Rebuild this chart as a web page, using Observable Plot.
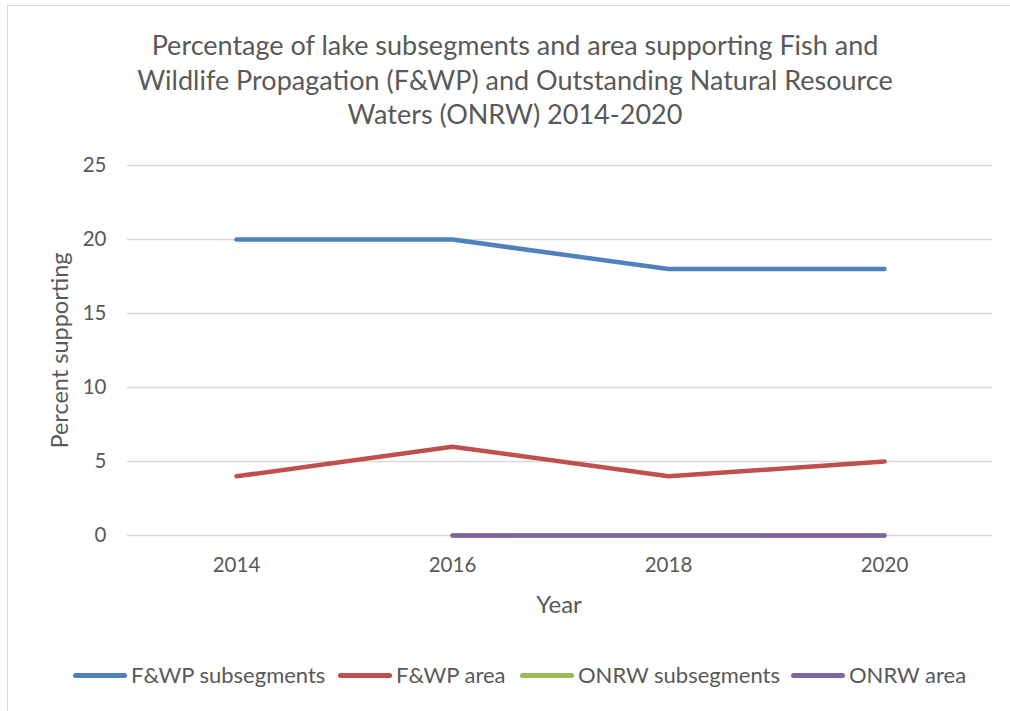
<!DOCTYPE html>
<html><head><meta charset="utf-8">
<script src="https://cdn.jsdelivr.net/npm/d3@7"></script>
<script src="https://cdn.jsdelivr.net/npm/@observablehq/plot@0.6"></script>
<style>
body{margin:0;background:#fff;font-family:Lato,"Open Sans",sans-serif;}
#wrap{position:relative;width:1010px;height:711px;overflow:hidden;}
#frame{position:absolute;left:7px;top:5px;width:1010px;height:720px;border:1.5px solid #d9d9d9;box-sizing:border-box;}
#title{position:absolute;left:0;top:28px;width:1030px;text-align:center;font-size:27px;line-height:34.5px;color:#595959;}
#chart{position:absolute;left:0;top:150px;}
#legend{position:absolute;left:0;top:661px;width:1010px;height:30px;font-size:22px;color:#595959;}
.li{position:absolute;top:0;white-space:nowrap;}
.sw{display:inline-block;width:54px;height:5px;border-radius:3px;vertical-align:middle;margin-right:4px;position:relative;top:-2px;}
</style></head>
<body><div id="wrap"><div id="frame"></div>
<div id="title">Percentage of lake subsegments and area supporting Fish and<br>Wildlife Propagation (F&amp;WP) and Outstanding Natural Resource<br>Waters (ONRW) 2014-2020</div>
<div id="chart"></div>
<div id="legend"></div>
</div>
<script>
const years = ["2014","2016","2018","2020"];
const fwpSubsegments = [20,20,18,18];
const fwpArea = [4,6,4,5];
const onrwSubsegments = [null,0,0,0];
const onrwArea = [null,0,0,0];
const seriesNames = ["F&WP subsegments","F&WP area","ONRW subsegments","ONRW area"];
const seriesColors = ["#4F81BD","#C0504D","#9BBB59","#8064A2"];
const yTicks = [0,5,10,15,20,25];

const allSeries = [fwpSubsegments, fwpArea, onrwSubsegments, onrwArea];
const rows = [];
allSeries.forEach((vals,si)=>vals.forEach((v,i)=>{ if(v!==null) rows.push({series:seriesNames[si], year:years[i], value:v}); }));

const chart = Plot.plot({
  width:1010, height:500,
  marginTop:15, marginBottom:115, marginLeft:127, marginRight:18,
  style:{fontFamily:"Lato, 'Open Sans', sans-serif", fontSize:"20.5px", color:"#595959", background:"transparent", overflow:"visible"},
  x:{type:"point", domain:years, padding:0.5, label:null},
  y:{domain:[0,25], label:null},
  color:{domain:seriesNames, range:seriesColors},
  marks:[
    Plot.gridY(yTicks,{stroke:"#d9d9d9", strokeOpacity:1, strokeWidth:1.5}),
    Plot.axisY(yTicks,{tickSize:0, tickPadding:21, fontSize:20.5, fill:"#595959", label:null}),
    Plot.axisX(years,{tickSize:0, tickPadding:22, fontSize:20.5, fill:"#595959", label:null}),
    ...seriesNames.map(s=>Plot.line(rows.filter(r=>r.series===s),{x:"year", y:"value", stroke:seriesColors[seriesNames.indexOf(s)], strokeWidth:4.5, strokeLinecap:"round", strokeLinejoin:"round"})),
    Plot.text(["Percent supporting"],{frameAnchor:"left", textAnchor:"middle", dx:-67, rotate:-90, fontSize:23.5, fill:"#595959"}),
    Plot.text(["Year"],{frameAnchor:"bottom", dy:77, dx:-1, fontSize:24, fill:"#595959"})
  ]
});
document.getElementById("chart").appendChild(chart);

const lx = [73,338,520,791];
const leg = document.getElementById("legend");
seriesNames.forEach((s,i)=>{
  const d=document.createElement("div"); d.className="li"; d.style.left=lx[i]+"px";
  d.innerHTML=`<span class="sw" style="background:${seriesColors[i]}"></span>${s.replace("&","&amp;")}`;
  leg.appendChild(d);
});
</script></body></html>
